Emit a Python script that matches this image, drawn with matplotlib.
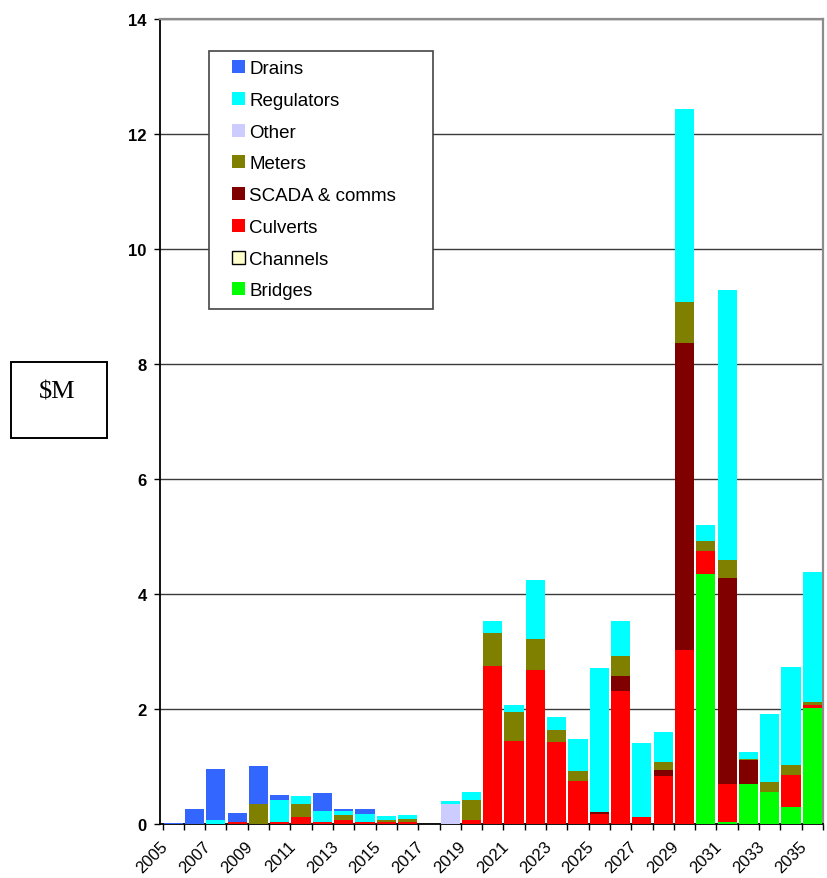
import matplotlib
matplotlib.use("Agg")
import matplotlib.pyplot as plt
import matplotlib.patches as mpatches
import numpy as np

plt.rcParams['font.family'] = ['Liberation Sans', 'DejaVu Sans']

# ---------------------------------------------------------------
#   DATA ($M per year)
# ---------------------------------------------------------------
years = list(range(2005, 2036))

drains = [0.02, 0.26, 0.89, 0.16, 0.66, 0.08, 0.00, 0.31, 0.03, 0.09,
          0.00, 0.00, 0.00, 0.00, 0.00, 0.00, 0.00, 0.00, 0.00, 0.00,
          0.00, 0.00, 0.00, 0.00, 0.00, 0.00, 0.00, 0.00, 0.00, 0.00, 0.00]
regulators = [0.00, 0.00, 0.07, 0.00, 0.00, 0.38, 0.14, 0.20, 0.07, 0.14,
              0.07, 0.07, 0.00, 0.06, 0.14, 0.21, 0.12, 1.02, 0.23, 0.56,
              2.50, 0.61, 1.29, 0.52, 3.35, 0.28, 4.70, 0.12, 1.18, 1.70, 2.26]
other = [0.00, 0.00, 0.00, 0.00, 0.00, 0.00, 0.00, 0.00, 0.00, 0.00,
         0.00, 0.00, 0.00, 0.34, 0.00, 0.00, 0.00, 0.00, 0.00, 0.00,
         0.00, 0.00, 0.00, 0.00, 0.00, 0.00, 0.00, 0.00, 0.00, 0.00, 0.00]
meters = [0.00, 0.00, 0.00, 0.00, 0.35, 0.00, 0.23, 0.00, 0.09, 0.00,
          0.03, 0.06, 0.00, 0.00, 0.35, 0.57, 0.50, 0.55, 0.20, 0.17,
          0.00, 0.35, 0.00, 0.14, 0.71, 0.17, 0.31, 0.02, 0.17, 0.18, 0.05]
scada = [0.00, 0.00, 0.00, 0.00, 0.00, 0.00, 0.00, 0.00, 0.00, 0.00,
         0.00, 0.00, 0.00, 0.00, 0.00, 0.00, 0.00, 0.00, 0.00, 0.00,
         0.03, 0.26, 0.00, 0.10, 5.34, 0.00, 3.58, 0.41, 0.00, 0.00, 0.00]
culverts = [0.00, 0.00, 0.00, 0.03, 0.00, 0.04, 0.12, 0.03, 0.07, 0.03,
            0.04, 0.03, 0.00, 0.00, 0.07, 2.75, 1.45, 2.67, 1.43, 0.75,
            0.18, 2.31, 0.12, 0.84, 3.03, 0.40, 0.67, 0.00, 0.00, 0.55, 0.05]
channels = [0.0] * 31
bridges = [0.00, 0.00, 0.00, 0.00, 0.00, 0.00, 0.00, 0.00, 0.00, 0.00,
           0.00, 0.00, 0.00, 0.00, 0.00, 0.00, 0.00, 0.00, 0.00, 0.00,
           0.00, 0.00, 0.00, 0.00, 0.00, 4.35, 0.03, 0.70, 0.56, 0.30, 2.02]

# stacking order, bottom to top
series = [("Bridges", bridges, "#00FF00"),
          ("Channels", channels, "#FFFFCC"),
          ("Culverts", culverts, "#FF0000"),
          ("SCADA & comms", scada, "#800000"),
          ("Meters", meters, "#808000"),
          ("Other", other, "#CCCCFF"),
          ("Regulators", regulators, "#00FFFF"),
          ("Drains", drains, "#3366FF")]

# ---------------------------------------------------------------
#   PLOT
# ---------------------------------------------------------------
W, H = 827, 879
fig = plt.figure(figsize=(W / 100, H / 100), dpi=100)
ax = fig.add_axes([160 / W, 1 - 825 / H, (823 - 160) / W, (825 - 20) / H])

x = np.arange(len(years))
bottom = np.zeros(len(years))
handles = {}
for name, vals, col in series:
    vals = np.array(vals)
    b = ax.bar(x, vals, bottom=bottom, width=0.9, color=col, linewidth=0, zorder=3)
    handles[name] = b
    bottom += vals

ax.set_xlim(-0.5, len(years) - 0.5)
ax.set_ylim(0, 14)

# gridlines
ax.set_yticks(np.arange(0, 15, 2))
ax.yaxis.grid(True, color="#3a3a3a", linewidth=1.0, zorder=1)
ax.set_axisbelow(True)
ax.tick_params(axis="y", direction="out", length=4, width=1, pad=5.5)
for lab in ax.get_yticklabels():
    lab.set_fontweight("bold")
    lab.set_fontsize(12)

# x ticks at category boundaries, labels on every second year
ax.set_xticks(np.arange(-0.5, len(years), 1.0))
ax.set_xticklabels([])
ax.tick_params(axis="x", which="major", direction="out", length=4, width=1)
lab_pos = [i - 0.62 for i in range(0, len(years), 2)]
ax.set_xticks(lab_pos, [str(years[i]) for i in range(0, len(years), 2)], minor=True)
ax.tick_params(axis="x", which="minor", length=0, pad=10, labelsize=12)
for lab in ax.get_xticklabels(minor=True):
    lab.set_rotation(45)
    lab.set_ha("right")
    lab.set_va("top")
    lab.set_rotation_mode("anchor")

for s in ["left", "bottom"]:
    ax.spines[s].set_color("black")
    ax.spines[s].set_linewidth(1.3)
for s in ["top", "right"]:
    ax.spines[s].set_color("#8c8c8c")
    ax.spines[s].set_linewidth(1.6)

# legend, drawn without frame, box added separately
order = ["Drains", "Regulators", "Other", "Meters", "SCADA & comms",
         "Culverts", "Channels", "Bridges"]
leg = fig.legend([handles[n] for n in order], order,
                 loc="upper left", bbox_to_anchor=(232 / W, 1 - 61 / H),
                 frameon=False, fontsize=13.5, borderpad=0, borderaxespad=0,
                 handlelength=0.7, handleheight=0.7, handletextpad=0.22,
                 labelspacing=0.78)
leg.legend_handles[6].set_edgecolor("black")
leg.legend_handles[6].set_linewidth(1.0)

fig.patches.append(mpatches.Rectangle((209 / W, 1 - 310 / H), (433 - 209) / W, (310 - 52) / H,
                                      transform=fig.transFigure, facecolor="white",
                                      edgecolor="#444444", linewidth=1.2, zorder=0.5))
leg.set_zorder(10)

# $M label in a box
fig.patches.append(mpatches.Rectangle((11 / W, 1 - 439 / H), 96 / W, 76 / H,
                                      transform=fig.transFigure, facecolor="white",
                                      edgecolor="black", linewidth=1.4))
fig.text(57 / W, 1 - 392 / H, "$M", fontsize=19, family="Liberation Serif",
         ha="center", va="center")

fig.savefig("out.png", dpi=100)
